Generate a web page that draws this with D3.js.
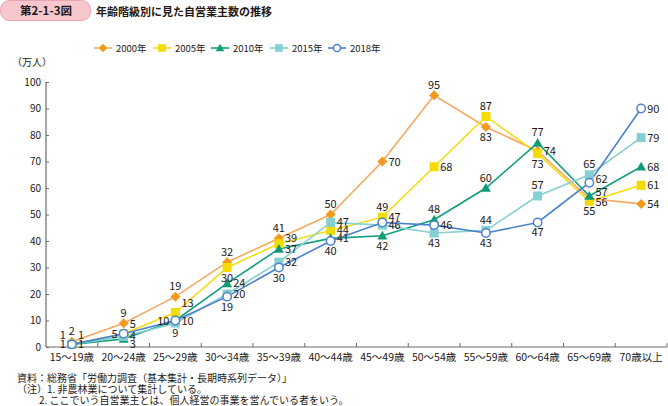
<!DOCTYPE html>
<html><head><meta charset="utf-8">
<script src="https://cdn.jsdelivr.net/npm/d3@7"></script>
<style>
body{margin:0;background:#fff;}
svg text{font-family:"Noto Sans CJK JP","Noto Sans",sans-serif;fill:#231815;}
</style></head>
<body><svg id="c" width="668" height="406"></svg>
<script>
const categories = ["15～19歳","20～24歳","25～29歳","30～34歳","35～39歳","40～44歳","45～49歳","50～54歳","55～59歳","60～64歳","65～69歳","70歳以上"];
const seriesNames = ["2000年","2005年","2010年","2015年","2018年"];
const v2000 = [2, 9, 19, 32, 41, 50, 70, 95, 83, 74, 56, 54];
const v2005 = [1, 5, 13, 30, 39, 44, 49, 68, 87, 73, 55, 61];
const v2010 = [1, 3, 10, 24, 37, 41, 42, 48, 60, 77, 57, 68];
const v2015 = [1, 4, 9, 20, 32, 47, 46, 43, 44, 57, 65, 79];
const v2018 = [1, 5, 10, 19, 30, 40, 47, 46, 43, 47, 62, 90];
const yTicks = [0,10,20,30,40,50,60,70,80,90,100];

// label placement (style): a=above, b=below, r=right, l=left, ru/rd right-up/down, tl/tr/br corners
const pos2000 = ["a","a","a","a","a","a","r","a","b","r","rd","r"];
const pos2005 = ["tl","tr","tr","b","ru","r","a","r","a","b","b","r"];
const pos2010 = ["l","br","r","r","r","r","b","a","a","a","r0","r"];
const pos2015 = ["tr","r","b","r","r","r","r","b","a","a","a","r"];
const pos2018 = ["r","l","l","b","b","b","ru","r","b","b","rs","r"];

const svg = d3.select("#c");
const M = {l:46, r:667, t:82, b:347};
const x = d3.scaleBand().domain(categories).range([M.l, M.r]);
const y = d3.scaleLinear().domain([0,100]).range([M.b, M.t]);

// header
svg.append("rect").attr("x",0.5).attr("y",0.5).attr("width",90).attr("height",20).attr("rx",9)
  .attr("fill","#f6c8ce").attr("stroke","#eca3ad");
svg.append("text").attr("x",46).attr("y",15).attr("text-anchor","middle").attr("font-size",11.5).attr("font-weight","bold").text("第2-1-3図");
svg.append("text").attr("x",96).attr("y",15.5).attr("font-size",11).attr("font-weight","bold").text("年齢階級別に見た自営業主数の推移");

svg.append("text").attr("x",12).attr("y",66).attr("font-size",10).text("（万人）");

// axes
const axisColor = "#6b6b6b";
const yAxis = svg.append("g").attr("transform",`translate(${M.l},0)`)
  .call(d3.axisRight(y).tickValues(yTicks).tickSize(3).tickFormat(""));
yAxis.select(".domain").attr("stroke",axisColor).attr("stroke-width",1.2).attr("d",`M0,${M.t}V${M.b}`);
yAxis.selectAll(".tick line").attr("stroke",axisColor);
svg.append("g").selectAll("text").data(yTicks).join("text")
  .attr("x",M.l-5).attr("y",d=>y(d)+3.5).attr("text-anchor","end").attr("font-size",10).text(d=>d);

const xAxis = svg.append("g").attr("transform",`translate(0,${M.b})`)
  .call(d3.axisTop(x).tickSize(0).tickFormat(""));
xAxis.select(".domain").attr("stroke",axisColor).attr("stroke-width",1.2).attr("d",`M${M.l},0H${M.r}`);
const bounds = d3.range(1, categories.length+1).map(i => M.l + i*x.bandwidth());
svg.append("g").selectAll("line").data(bounds).join("line")
  .attr("x1",d=>d).attr("x2",d=>d).attr("y1",M.b).attr("y2",M.b-4).attr("stroke",axisColor);
svg.append("g").selectAll("text").data(categories).join("text")
  .attr("x",d=>x(d)+x.bandwidth()/2).attr("y",M.b+13.5).attr("text-anchor","middle").attr("font-size",10.5).text(d=>d);

const series = [
  {name:seriesNames[0], vals:v2000, pos:pos2000, line:"#f7a860", mk:"#f39a1e", shape:"diamond"},
  {name:seriesNames[1], vals:v2005, pos:pos2005, line:"#f5dc14", mk:"#f5dc00", shape:"square"},
  {name:seriesNames[2], vals:v2010, pos:pos2010, line:"#10a07a", mk:"#0f9c76", shape:"triangle"},
  {name:seriesNames[3], vals:v2015, pos:pos2015, line:"#86cfd2", mk:"#86cfd2", shape:"square"},
  {name:seriesNames[4], vals:v2018, pos:pos2018, line:"#4a82cf", mk:"#4a82cf", shape:"circle"}
];

function marker(g, s, cx, cy, scale){
  scale = scale||1;
  if(s.shape==="diamond"){
    const r=5*scale;
    g.append("path").attr("d",`M${cx},${cy-r}L${cx+r},${cy}L${cx},${cy+r}L${cx-r},${cy}Z`).attr("fill",s.mk);
  } else if(s.shape==="square"){
    const r=4.5*scale;
    g.append("rect").attr("x",cx-r).attr("y",cy-r).attr("width",2*r).attr("height",2*r).attr("fill",s.mk);
  } else if(s.shape==="triangle"){
    const r=5*scale;
    g.append("path").attr("d",`M${cx},${cy-r}L${cx+r},${cy+r*0.75}L${cx-r},${cy+r*0.75}Z`).attr("fill",s.mk);
  } else {
    g.append("circle").attr("cx",cx).attr("cy",cy).attr("r",4.2*scale).attr("fill","#fff").attr("stroke",s.mk).attr("stroke-width",1.5);
  }
}

const line = d3.line().x((d,i)=>x(categories[i])+x.bandwidth()/2).y(d=>y(d));
series.forEach(s=>{
  svg.append("path").attr("d",line(s.vals)).attr("fill","none").attr("stroke",s.line).attr("stroke-width",1.6);
});
series.forEach(s=>{
  const g = svg.append("g");
  s.vals.forEach((v,i)=>marker(g,s,x(categories[i])+x.bandwidth()/2,y(v)));
});
// labels
const off = {a:[0,-6.5,"middle"], b:[0,14,"middle"], r:[6,4,"start"], l:[-6,4,"end"],
             ru:[6,-1.5,"start"], rd:[6,7,"start"], r0:[6,0,"start"], rs:[6,0.5,"start"],
             tl:[-6,-5.5,"end"], tr:[6,-5.5,"start"], br:[6,8.5,"start"]};
series.forEach(s=>{
  s.vals.forEach((v,i)=>{
    const o = off[s.pos[i]];
    svg.append("text").attr("x",x(categories[i])+x.bandwidth()/2+o[0]).attr("y",y(v)+o[1])
      .attr("text-anchor",o[2]).attr("font-size",11).text(v);
  });
});

// legend
const legX = [94,153,211,270,328];
series.forEach((s,i)=>{
  const g = svg.append("g");
  g.append("line").attr("x1",legX[i]).attr("x2",legX[i]+18).attr("y1",48).attr("y2",48).attr("stroke",s.line).attr("stroke-width",1.6);
  marker(g,s,legX[i]+9,48,0.85);
  g.append("text").attr("x",legX[i]+22).attr("y",51.5).attr("font-size",9.5).text(s.name);
});

// notes
const notes = [
  {x:17, y:382, t:"資料：総務省「労働力調査（基本集計・長期時系列データ）」"},
  {x:17, y:393, t:"（注）1. 非農林業について集計している。"},
  {x:39, y:404, t:"2. ここでいう自営業主とは、個人経営の事業を営んでいる者をいう。"}
];
svg.append("g").selectAll("text").data(notes).join("text")
  .attr("x",d=>d.x).attr("y",d=>d.y).attr("font-size",10).attr("fill","#3e3a39").text(d=>d.t);
</script></body></html>
